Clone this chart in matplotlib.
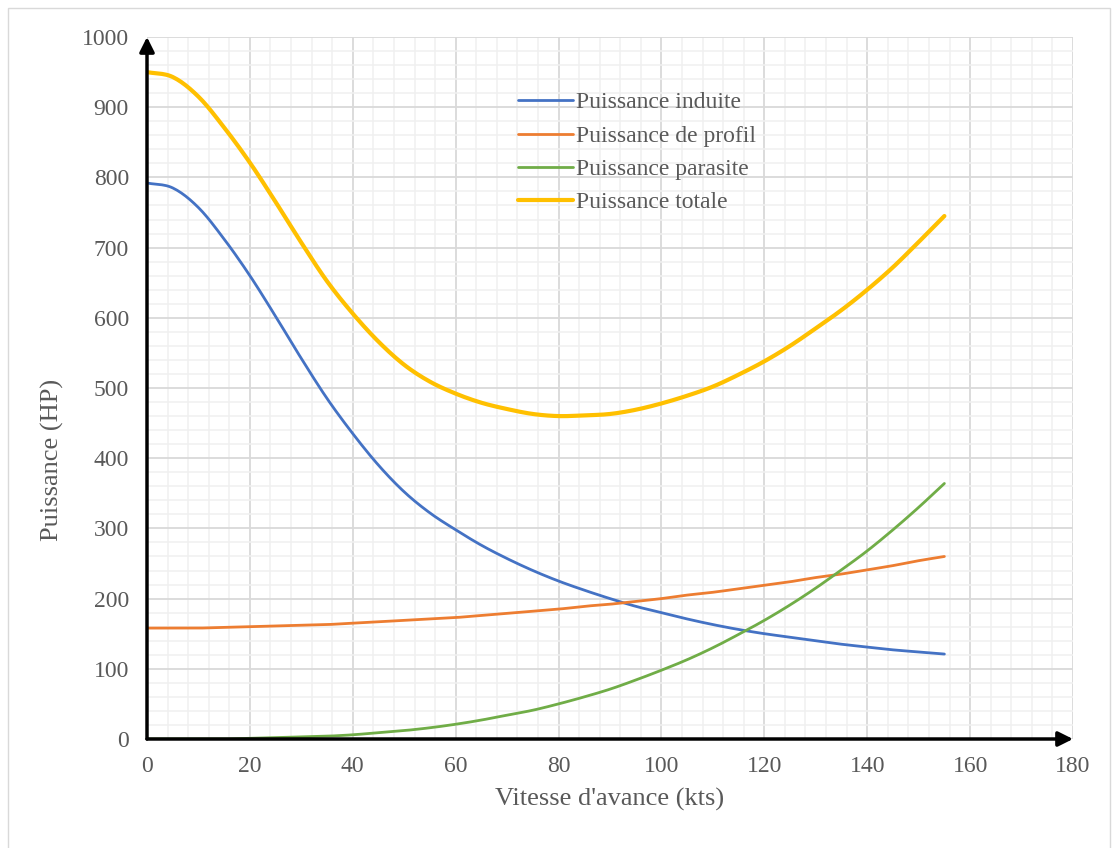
import numpy as np
import matplotlib.pyplot as plt
from matplotlib.patches import Rectangle

# vitesse d'avance (kts)
vitesse = list(range(0, 160, 5))

induite = [792, 785, 757, 712, 660, 602, 542, 485, 435, 390, 352, 322, 298, 276, 257, 240,
           225, 212, 200, 189, 180, 171, 163, 156, 150, 145, 140, 135, 131, 127, 124, 121]
profil = [158, 158, 158, 159, 160, 161, 162, 163, 165, 167, 169, 171, 173, 176, 179, 182,
          185, 189, 192, 196, 200, 205, 209, 214, 219, 224, 230, 235, 241, 247, 254, 260]
parasite = [0, 0, 0, 0, 1, 2, 3, 4, 6, 9, 12, 16, 21, 27, 34, 41,
            50, 60, 71, 84, 98, 113, 130, 149, 169, 191, 215, 241, 268, 298, 330, 364]
totale = [950, 943, 915, 871, 821, 765, 707, 652, 606, 566, 533, 509, 492, 479, 470, 463,
          460, 461, 463, 469, 478, 489, 502, 519, 538, 560, 585, 611, 640, 672, 708, 745]

labels = ["Puissance induite", "Puissance de profil", "Puissance parasite", "Puissance totale"]
colors = ["#4472C4", "#ED7D31", "#70AD47", "#FFC000"]


def smooth(x, y, n=12):
    # catmull-rom, like excel's smoothed lines
    x = np.asarray(x, float)
    y = np.asarray(y, float)
    px = np.concatenate([[2*x[0] - x[1]], x, [2*x[-1] - x[-2]]])
    py = np.concatenate([[2*y[0] - y[1]], y, [2*y[-1] - y[-2]]])
    xs, ys = [], []
    t = np.linspace(0, 1, n, endpoint=False)
    for i in range(1, len(px) - 2):
        for p, out in ((px, xs), (py, ys)):
            p0, p1, p2, p3 = p[i-1], p[i], p[i+1], p[i+2]
            out.extend(0.5*((2*p1) + (-p0 + p2)*t + (2*p0 - 5*p1 + 4*p2 - p3)*t**2
                            + (-p0 + 3*p1 - 3*p2 + p3)*t**3))
    xs.append(x[-1])
    ys.append(y[-1])
    return xs, ys


txt = "#595959"
plt.rcParams['font.family'] = ['Liberation Serif', 'DejaVu Serif']

fig = plt.figure(figsize=(11.15, 8.48), dpi=100)
ax = fig.add_axes([147/1115, 1 - 739/848, (1073 - 147)/1115, (739 - 37)/848])

fig.patches.append(Rectangle((8/1115, -0.01), (1110 - 8)/1115, 1 - 8/848 + 0.01,
                             transform=fig.transFigure, fill=False, ec="#d9d9d9", lw=1))

series = [induite, profil, parasite, totale]
for s, lab, c in zip(series, labels, colors):
    lw = 3 if lab == "Puissance totale" else 2
    sx, sy = smooth(vitesse, s)
    ax.plot(sx, sy, color=c, lw=lw, label=lab, solid_capstyle='round', zorder=3)

ax.set_xlim(0, 180)
ax.set_ylim(0, 1000)
ax.set_xticks(range(0, 181, 20))
ax.set_yticks(range(0, 1001, 100))
ax.set_xticks(range(0, 181, 4), minor=True)
ax.set_yticks(range(0, 1001, 20), minor=True)
ax.grid(which='major', color='#d9d9d9', lw=1.3, zorder=0)
ax.grid(which='minor', color='#f0f0f0', lw=1.1, zorder=0)
ax.set_axisbelow(True)

for side in ['top', 'right', 'left', 'bottom']:
    ax.spines[side].set_visible(False)

ax.tick_params(which='both', length=0, labelsize=17, labelcolor=txt)
ax.tick_params(axis='y', pad=13)
ax.tick_params(axis='x', pad=12)

# axes with arrows
ax.annotate("", xy=(180, 0), xytext=(0, 0), annotation_clip=False,
            arrowprops=dict(arrowstyle='-|>', color='black', lw=2.5,
                            mutation_scale=22, shrinkA=0, shrinkB=0), zorder=5)
ax.annotate("", xy=(0, 1000), xytext=(0, 0), annotation_clip=False,
            arrowprops=dict(arrowstyle='-|>', color='black', lw=2.5,
                            mutation_scale=22, shrinkA=0, shrinkB=0), zorder=5)

ax.set_xlabel("Vitesse d'avance (kts)", fontsize=19, color=txt, labelpad=8)
ax.set_ylabel("Puissance (HP)", fontsize=19, color=txt)
ax.yaxis.set_label_coords(-0.09, 0.397)

leg = ax.legend(loc='upper left', bbox_to_anchor=(0.378, 0.952), frameon=False,
                fontsize=17, handlelength=2.3, handletextpad=0.15, labelspacing=0.5)
for t in leg.get_texts():
    t.set_color(txt)

fig.savefig("out.png", dpi=100)
